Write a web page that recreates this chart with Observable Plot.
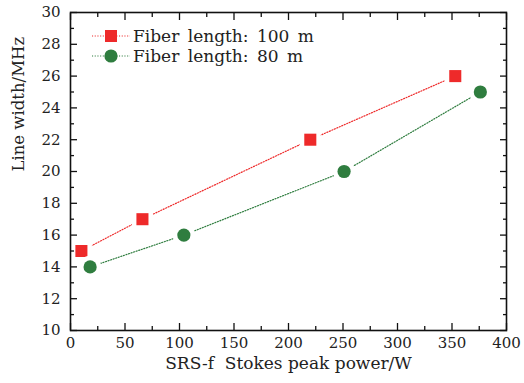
<!DOCTYPE html>
<html><head><meta charset="utf-8">
<script src="https://cdn.jsdelivr.net/npm/d3@7"></script>
<script src="https://cdn.jsdelivr.net/npm/@observablehq/plot@0.6"></script>
<style>body{margin:0;background:#fff}</style>
</head><body><div id="chart"></div>
<script>
const seriesNames = ["Fiber length: 100 m", "Fiber length: 80 m"];
const power100 = [10, 66, 220, 353];
const width100 = [15, 17, 22, 26];
const power80 = [18, 104, 251, 376];
const width80 = [14, 16, 20, 25];
const xMajor = [0, 50, 100, 150, 200, 250, 300, 350, 400];
const xMinor = [25, 75, 125, 175, 225, 275, 325, 375];
const yMajor = [10, 12, 14, 16, 18, 20, 22, 24, 26, 28, 30];
const yMinor = [11, 13, 15, 17, 19, 21, 23, 25, 27, 29];
const xLabel = "SRS-f\u00a0\u00a0Stokes peak power/W";
const yLabel = "Line width/MHz";
const colors = ["#ee2a2a", "#2f7d3f"];

const d100 = power100.map((x, i) => ({x, y: width100[i]}));
const d80 = power80.map((x, i) => ({x, y: width80[i]}));
const font = "DejaVu Serif";

const dash = "1.1,1.6";
const lineStyle = {strokeWidth: 1.2, strokeDasharray: dash};
const plot = Plot.plot({
  width: 524, height: 383,
  marginLeft: 70, marginRight: 18, marginTop: 12, marginBottom: 53,
  style: {fontFamily: font, fontSize: "15px", color: "#222", background: "#fff"},
  x: {domain: [0, 400]},
  y: {domain: [10, 30]},
  marks: [
    Plot.line(d100, {x: "x", y: "y", stroke: colors[0], ...lineStyle}),
    Plot.line(d80, {x: "x", y: "y", stroke: colors[1], ...lineStyle}),
    Plot.dot(d100, {x: "x", y: "y", symbol: "square", r: 6.8, fill: colors[0], stroke: "white", strokeWidth: 9, paintOrder: "stroke"}),
    Plot.dot(d80, {x: "x", y: "y", symbol: "circle", r: 6.6, fill: colors[1], stroke: "white", strokeWidth: 9, paintOrder: "stroke"}),
    Plot.frame({stroke: "#111", strokeWidth: 1.6}),
    Plot.axisX({ticks: xMajor, anchor: "bottom", tickSize: -7, tickPadding: 14, label: null, tickFormat: d => d, stroke: "#111", strokeWidth: 1.3}),
    Plot.axisX({ticks: xMinor, anchor: "bottom", tickSize: -4, label: null, tickFormat: null, text: null, stroke: "#111", strokeWidth: 1.3}),
    Plot.axisX({ticks: xMajor, anchor: "top", tickSize: -7, label: null, tickFormat: null, text: null, stroke: "#111", strokeWidth: 1.3}),
    Plot.axisX({ticks: xMinor, anchor: "top", tickSize: -4, label: null, tickFormat: null, text: null, stroke: "#111", strokeWidth: 1.3}),
    Plot.axisY({ticks: yMajor, anchor: "left", tickSize: -7, tickPadding: 17, label: null, tickFormat: d => d, stroke: "#111", strokeWidth: 1.3}),
    Plot.axisY({ticks: yMinor, anchor: "left", tickSize: -4, label: null, text: null, stroke: "#111", strokeWidth: 1.3}),
    Plot.axisY({ticks: yMajor, anchor: "right", tickSize: -7, label: null, text: null, stroke: "#111", strokeWidth: 1.3}),
    Plot.axisY({ticks: yMinor, anchor: "right", tickSize: -4, label: null, text: null, stroke: "#111", strokeWidth: 1.3}),
    Plot.text([xLabel], {text: d => d, frameAnchor: "bottom", dy: 38, fontSize: 17, fill: "#222"}),
    Plot.text([yLabel], {text: d => d, frameAnchor: "left", dx: -52, rotate: -90, fontSize: 16.5, fill: "#222"})
  ]
});
document.getElementById("chart").appendChild(plot);

// legend
const svg = d3.select(plot);
const leg = svg.append("g").attr("font-family", font).attr("font-size", 17).attr("fill", "#222").attr("text-anchor", "start");
const legX = 92, legY = 36, legGap = 20;
seriesNames.forEach((name, i) => {
  const y = legY + i * legGap;
  leg.append("line").attr("x1", legX).attr("x2", legX + 38).attr("y1", y).attr("y2", y)
    .attr("stroke", colors[i]).attr("stroke-width", 1.2).attr("stroke-dasharray", dash);
  if (i === 0) {
    leg.append("rect").attr("x", legX + 19 - 6).attr("y", y - 6).attr("width", 12).attr("height", 12).attr("fill", colors[i]);
  } else {
    leg.append("circle").attr("cx", legX + 19).attr("cy", y).attr("r", 6.6).attr("fill", colors[i]);
  }
  leg.append("text").attr("x", legX + 41).attr("y", y).attr("dy", "0.35em").attr("text-anchor", "start")
    .attr("word-spacing", 3).text(name);
});
</script></body></html>
